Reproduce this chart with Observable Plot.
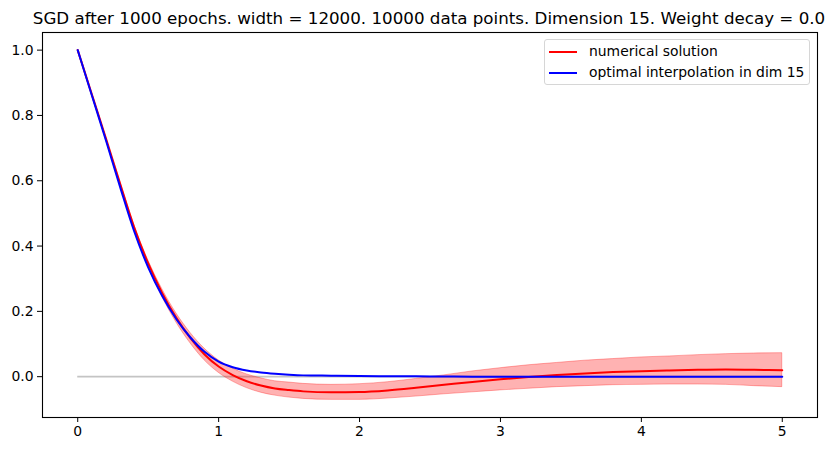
<!DOCTYPE html>
<html>
<head>
<meta charset="utf-8">
<script src="https://cdn.jsdelivr.net/npm/d3@7"></script>
<script src="https://cdn.jsdelivr.net/npm/@observablehq/plot@0.6"></script>
<style>
  html, body { margin: 0; padding: 0; background: #fff; }
  #wrap { position: relative; width: 832px; height: 451px; font-family: "DejaVu Sans", sans-serif; overflow: hidden; }
  #title { position: absolute; left: 0px; width: 858px; top: 10px; text-align: center; font-size: 16.7px; line-height: 16.7px; white-space: nowrap; color: #000; }
  #chart { position: absolute; left: 0; top: 0; }
  #legend { position: absolute; left: 544px; top: 39px; width: 264px; height: 44px; border: 1px solid #d6d6d6; border-radius: 3px; background: rgba(255,255,255,0.8); font-size: 13.9px; }
  .item { position: absolute; left: 0; height: 16px; }
  .swatch { position: absolute; left: 4px; width: 28px; height: 2px; }
  .label { position: absolute; left: 44px; white-space: nowrap; line-height: 16px; top: -8px; }
</style>
</head>
<body>
<div id="wrap">
  <div id="chart"></div>
  <div id="title"></div>
  <div id="legend"></div>
</div>
<script>
const titleText = "SGD after 1000 epochs. width = 12000. 10000 data points. Dimension 15. Weight decay = 0.0";
const seriesNames = ["numerical solution", "optimal interpolation in dim 15"];
const seriesColors = ["red", "blue"];

const xs = [0, 0.1, 0.2, 0.3, 0.4, 0.5, 0.6, 0.7, 0.8, 0.9, 1.0, 1.1, 1.2, 1.3, 1.4, 1.5, 1.6,
            1.8, 2.0, 2.2, 2.4, 2.6, 2.8, 3.0, 3.2, 3.4, 3.6, 3.8, 4.0, 4.2, 4.4, 4.6, 4.8, 5.0];

const numerical = [1.0, 0.865, 0.73, 0.592, 0.458, 0.347, 0.256, 0.18, 0.118, 0.068, 0.031, 0.005, -0.014, -0.027, -0.036, -0.041, -0.045,
                   -0.048, -0.047, -0.042, -0.034, -0.025, -0.016, -0.008, -0.001, 0.005, 0.010, 0.014, 0.017, 0.019, 0.021, 0.022, 0.021, 0.020];

const upper = [1.0, 0.867, 0.734, 0.598, 0.466, 0.357, 0.268, 0.194, 0.134, 0.086, 0.050, 0.025, 0.007, -0.005, -0.014, -0.018, -0.022,
               -0.025, -0.023, -0.017, -0.007, 0.004, 0.016, 0.026, 0.035, 0.042, 0.049, 0.054, 0.059, 0.062, 0.066, 0.069, 0.071, 0.072];

const lower = [1.0, 0.863, 0.726, 0.586, 0.450, 0.337, 0.244, 0.166, 0.102, 0.050, 0.012, -0.015, -0.035, -0.049, -0.058, -0.064, -0.068,
               -0.071, -0.071, -0.067, -0.061, -0.054, -0.048, -0.042, -0.037, -0.032, -0.029, -0.026, -0.025, -0.024, -0.024, -0.025, -0.029, -0.032];

const optimal = [1.0, 0.862, 0.724, 0.582, 0.446, 0.335, 0.247, 0.176, 0.12, 0.076, 0.046, 0.029, 0.019, 0.013, 0.009, 0.006, 0.004,
                 0.003, 0.002, 0.0015, 0.001, 0.0005, 0, 0, 0, 0, 0, 0, 0, 0, 0, 0, 0, 0];

const xTicks = [0, 1, 2, 3, 4, 5];
const yTicks = [0.0, 0.2, 0.4, 0.6, 0.8, 1.0];
const xDomain = [-0.25, 5.25];
const yDomain = [-0.125, 1.054];
const zeroLevel = [0];

const rows = xs.map((x, i) => ({x, num: numerical[i], lo: lower[i], hi: upper[i], opt: optimal[i]}));

document.getElementById("title").textContent = titleText;

const chart = Plot.plot({
  width: 832,
  height: 451,
  marginTop: 32,
  marginBottom: 34,
  marginLeft: 42,
  marginRight: 15,
  style: {fontFamily: "DejaVu Sans, sans-serif", fontSize: "13.9px", color: "#000", background: "transparent"},
  x: {domain: xDomain},
  y: {domain: yDomain},
  marks: [
    Plot.ruleY(zeroLevel, {x1: xs[0], x2: xs[xs.length - 1], stroke: "#c4c4c4", strokeWidth: 1.8}),
    Plot.areaY(rows, {x: "x", y1: "lo", y2: "hi", fill: "red", fillOpacity: 0.3, stroke: "red", strokeOpacity: 0.3, strokeWidth: 1, curve: "monotone-x"}),
    Plot.lineY(rows, {x: "x", y: "num", stroke: seriesColors[0], strokeWidth: 2, curve: "monotone-x"}),
    Plot.lineY(rows, {x: "x", y: "opt", stroke: seriesColors[1], strokeWidth: 2, curve: "monotone-x"}),
    Plot.axisX({ticks: xTicks, tickSize: 5, tickPadding: 4, tickFormat: d3.format("d"), label: null, fontSize: 13.9}),
    Plot.axisY({ticks: yTicks, tickSize: 5, tickPadding: 4, tickFormat: d3.format(".1f"), label: null, fontSize: 13.9}),
    Plot.frame({stroke: "#000", strokeWidth: 1.1})
  ]
});
document.getElementById("chart").appendChild(chart);

const legend = document.getElementById("legend");
seriesNames.forEach((name, i) => {
  const item = document.createElement("div");
  item.className = "item";
  item.style.top = (11 + i * 21) + "px";
  const sw = document.createElement("div");
  sw.className = "swatch";
  sw.style.background = seriesColors[i];
  sw.style.top = "0px";
  const lab = document.createElement("div");
  lab.className = "label";
  lab.textContent = name;
  item.appendChild(sw);
  item.appendChild(lab);
  legend.appendChild(item);
});
</script>
</body>
</html>
